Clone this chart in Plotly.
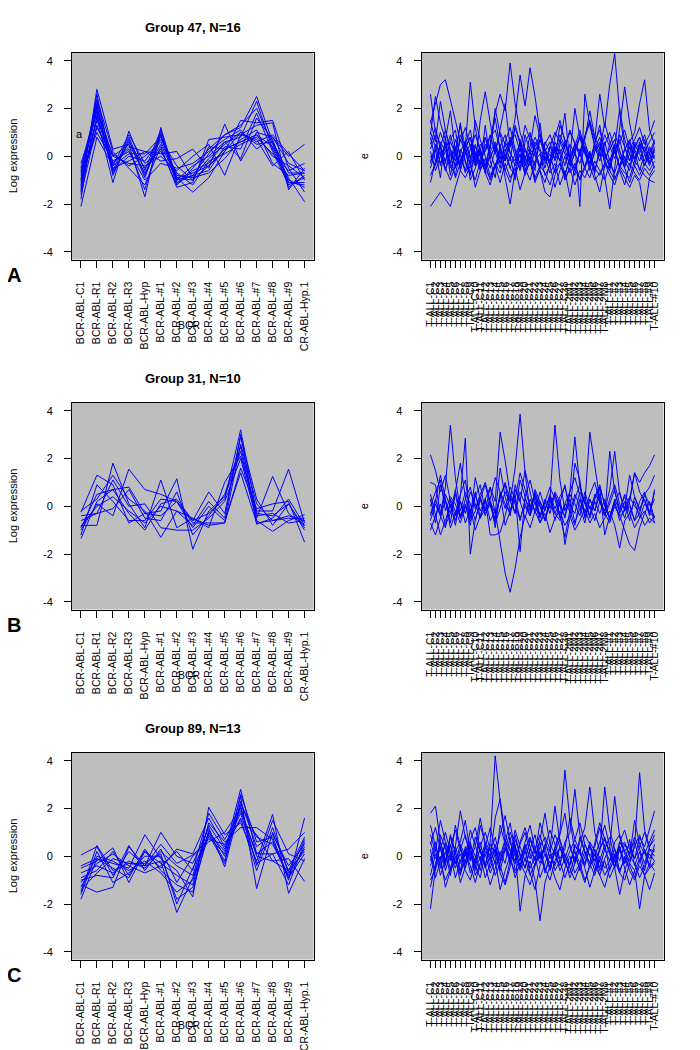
import plotly.graph_objects as go

# Sample labels (left: BCR-ABL samples, right: T-ALL samples)
LEFT_LABELS = ['BCR-ABL-C1', 'BCR-ABL-R1', 'BCR-ABL-R2', 'BCR-ABL-R3', 'BCR-ABL-Hyp',
               'BCR-ABL-#1', 'BCR-ABL-#2', 'BCR-ABL-#3', 'BCR-ABL-#4', 'BCR-ABL-#5',
               'BCR-ABL-#6', 'BCR-ABL-#7', 'BCR-ABL-#8', 'BCR-ABL-#9', 'CR-ABL-Hyp.1']
RIGHT_LABELS = ([f'T-ALL-C{i}' for i in range(1, 29)] +
                [f'T-ALL-2M{i}' for i in range(1, 9)] +
                [f'T-ALL-#{i}' for i in range(1, 11)])

GROUP_TITLES = ['Group 47, N=16', 'Group 31, N=10', 'Group 89, N=13']
PANEL_LETTERS = ['A', 'B', 'C']

# ---- Group 47 ----
G47_LEFT = [
    [-2.1, 0.8, -0.4, 0.9, -0.3, 0.2, -0.9, -1.0, -0.4, 0.3, 0.6, 0.9, 0.4, -0.9, -1.9],
    [-1.5, 2.8, 0.3, 0.5, -1.7, 1.2, -1.1, -0.8, 0.1, 0.9, 1.2, 2.5, 0.6, -1.3, -0.8],
    [-0.5, 2.2, -0.8, 0.7, -0.9, 0.9, -1.2, -0.6, -0.3, 0.6, 0.8, 2.3, 0.3, -1.1, -1.2],
    [-1.2, 1.6, -1.1, 1.05, -0.6, 1.1, -0.9, -1.5, -0.9, 0.2, 1.5, 1.4, 1.5, -0.5, -1.5],
    [-0.8, 1.9, -0.3, 0.4, 0.2, -0.2, -0.1, 0.3, -0.5, 1.35, -0.2, 1.0, 0.8, -0.3, -0.6],
    [-1.0, 2.4, 0.2, -0.5, -1.2, 0.4, -1.3, -1.1, 0.7, 0.8, 0.9, 0.7, -0.4, 0.2, -1.0],
    [-1.6, 1.3, -0.4, 0.1, 0.1, 0.8, -0.8, -0.9, -0.1, 0.5, 1.0, 0.5, 0.6, -0.7, -0.7],
    [-0.7, 2.0, 0.0, -0.3, -0.4, 0.0, -0.6, 0.0, 0.5, -0.8, 0.9, 1.3, 1.4, -1.4, -0.5],
    [-1.3, 2.6, -0.6, 0.8, -0.8, 1.0, -1.0, -0.8, -0.6, 0.4, 0.3, 1.8, 0.2, -1.2, -0.9],
    [-0.9, 1.0, -0.2, 0.2, -1.0, -0.3, -0.5, -0.3, 0.2, 0.7, 1.1, 0.3, 0.8, 0.0, 0.5],
    [-1.1, 1.5, 0.1, -0.4, 0.0, 0.6, -0.7, -1.2, -0.2, 0.1, 0.5, 0.8, 0.1, -0.6, -0.3],
    [-0.6, 2.1, -0.7, 0.6, -0.5, 0.3, -1.2, -0.5, 0.3, 0.9, 1.3, 2.0, 0.5, -1.0, -1.3],
    [-1.4, 1.7, -0.5, -0.2, 0.2, 0.1, 0.2, -0.9, -0.7, -0.1, 0.7, 1.1, -0.3, -0.8, -0.7],
    [-1.8, 2.3, -0.3, 0.3, -1.4, 0.9, -1.0, -0.4, 0.0, 0.6, -0.1, 1.6, 0.7, -1.1, -1.1],
    [-1.0, 1.2, 0.0, 0.5, -0.7, 0.5, -0.9, -0.7, -0.4, 0.2, 1.0, 0.6, 0.9, 0.1, -0.6],
    [-0.3, 1.8, -0.6, 0.0, -0.2, 0.7, -0.4, -1.0, 0.4, 0.3, 0.6, 0.9, 0.0, -0.4, -0.9],
]
G47_RIGHT = [
    [-2.1, -1.8, -1.5, -1.8, -2.1, -1.3, -0.6, -0.9, -0.4, -1.0, -0.2, -0.6, -0.9, -0.3, -0.7, 0.1, -0.5, -0.8, -0.2, -0.6, 0.0, -0.9, -0.4, -0.7, -1.2, -0.5, -0.3, -0.8, -0.1, -0.6, -0.9, -0.4, 0.2, -0.5, -0.8, -0.3, -0.6, -1.0, -0.4, -0.7, -0.9, -0.2, -0.5, -0.8, -1.0, -1.1],
    [1.4, 2.2, 3.0, 3.2, 2.4, 1.5, 0.6, 1.2, 0.4, -0.3, 0.5, 0.2, 0.8, 1.1, 0.3, -0.2, 0.6, 0.9, 0.2, 1.3, 0.7, 0.1, -0.4, 0.5, 0.9, 0.3, -0.2, 0.4, 1.0, 0.6, 0.1, 0.8, 1.4, 0.5, 0.2, 0.9, 0.4, -0.1, 0.6, 1.1, 0.3, 0.7, 1.2, 0.5, 0.9, 1.5],
    [0.3, 0.9, -0.4, 0.6, -0.8, 0.2, 1.3, 0.4, 3.1, 1.2, 0.1, -0.6, 0.5, 1.6, 0.3, -0.2, 0.8, 0.2, -0.5, 0.6, 1.0, 0.3, -0.6, -1.1, -0.3, 0.4, -0.2, -1.0, -0.5, 0.2, 0.9, 0.4, -0.3, 0.5, 1.3, 0.1, -0.4, 0.3, 0.7, -0.2, -0.6, 0.4, 0.8, 0.1, -0.4, 0.3],
    [2.6, 1.0, 0.5, -0.3, 0.7, 1.1, -0.2, 0.4, 0.8, -0.4, 1.5, 2.7, 1.4, 0.2, -0.5, 0.6, 1.2, 0.3, -0.3, 0.9, 0.2, -0.4, 0.7, 0.3, -0.2, 0.8, 1.5, 0.6, -0.1, 0.4, 1.1, 0.3, -0.6, 0.2, 0.6, -0.3, 0.5, 1.0, 0.2, -0.5, 0.4, -0.2, 0.6, -0.4, 0.1, 0.7],
    [-0.5, 0.2, 1.0, 0.4, -0.3, 0.7, 0.1, -0.6, 0.3, 0.9, 0.2, -0.4, 0.5, 1.8, 2.6, 1.9, 3.9, 2.2, 1.0, 0.3, -0.2, 0.6, 0.2, -0.5, 0.4, -0.1, 0.7, 0.3, -0.4, 0.1, 0.8, 0.2, -0.3, 0.5, 0.0, 0.6, -0.2, 0.4, -0.5, 0.3, 0.6, -0.1, 0.2, 0.7, -0.3, 0.4],
    [0.8, -0.2, 0.4, 1.1, 0.3, -0.5, 0.2, 0.6, -0.1, 0.5, -0.3, 0.3, 0.9, 0.1, 1.2, 2.2, 0.4, 1.6, 3.4, 2.1, 3.7, 2.5, 1.0, 0.2, -0.4, 0.3, -0.2, 0.5, 0.0, -0.6, 0.2, 0.6, -0.1, 0.3, 0.8, 0.0, -0.3, 0.5, 0.2, -0.4, 0.1, 0.6, 0.3, -0.2, 0.4, 0.0],
    [0.2, -0.6, 0.0, 0.5, -0.4, -0.8, 0.3, -0.2, -0.7, 0.1, -0.5, -0.3, -1.0, -0.4, 0.2, -0.9, -2.0, -0.6, 0.1, -0.8, -0.2, -1.1, -0.5, 0.0, -0.7, -0.3, -1.2, -0.6, -1.7, -0.4, 0.1, -0.5, -0.9, -0.2, -0.6, -1.0, -0.3, -0.7, 0.0, -0.5, -1.1, -0.4, -0.8, -0.3, -0.6, -0.2],
    [1.0, 0.4, -0.3, 0.2, 0.9, 0.1, -0.5, 0.6, 0.0, -0.4, 0.3, 0.8, -0.1, 0.5, -0.3, 0.2, 0.7, 0.0, -0.6, 0.3, -0.2, 0.4, 0.9, 0.2, -0.3, 0.6, 0.1, -0.8, 0.0, 0.5, -2.1, 2.6, 1.3, 0.4, -0.2, 0.5, 1.0, 0.2, -0.4, 0.3, 0.7, -0.1, 0.4, 0.9, 0.1, -0.5],
    [-0.3, 0.5, 0.1, -0.6, 0.3, -0.2, 0.7, 0.2, -0.4, 0.4, 0.0, -0.7, 0.2, 0.6, -0.1, 0.3, -0.5, 0.1, 0.5, -0.3, 0.2, 0.8, 0.3, -0.2, 0.4, 1.0, 0.6, 0.1, -0.3, 0.5, 0.2, 0.9, 1.5, 0.7, 2.6, 1.2, 3.0, 4.3, 1.8, 0.4, -0.2, 0.5, 0.1, -0.4, 0.3, -0.1],
    [0.0, -0.4, 0.6, 0.2, -0.3, 0.4, -0.6, 0.1, 0.5, -0.2, 0.3, -0.5, 0.0, 0.4, -0.3, 0.6, 0.2, -0.4, 0.1, -0.7, 0.3, 0.0, -0.5, 0.2, 0.6, -0.2, 0.3, -0.4, 0.5, 0.1, -0.3, 0.4, 0.0, -0.6, 0.2, -0.9, -2.2, -0.5, 1.2, 2.9, 1.4, 0.3, -0.2, 0.4, -0.3, 0.2],
    [0.5, 1.2, 0.3, -0.2, 0.6, 0.1, -0.4, 0.3, 0.8, 0.0, -0.3, 0.5, 0.2, -0.5, 0.4, 0.9, 0.1, -0.2, 0.6, 0.3, -0.4, 0.2, 0.7, 0.0, -0.3, 0.4, 0.1, 0.6, -0.2, 0.3, 0.8, 0.1, -0.4, 0.2, 0.5, -0.1, 0.3, 0.7, 0.0, -0.3, 0.6, 1.0, 2.2, 3.2, 1.1, 0.5],
    [-0.8, -0.3, 0.2, -0.5, -1.0, -0.4, 0.1, -0.7, -0.2, -1.3, -0.6, -0.1, -0.8, -0.4, -1.1, -0.3, -0.9, -0.5, -1.4, -0.7, -0.2, -1.0, -0.6, -1.5, -1.7, -0.8, -0.3, -0.9, -0.5, -1.2, -0.6, -0.9, -0.4, -1.0, -0.7, -0.3, -0.8, -1.2, -0.5, -0.9, -1.3, -0.8, -1.1, -2.3, -0.9, -0.6],
    [1.5, 0.6, 2.3, 1.1, 0.2, -0.4, 0.9, 0.4, -0.3, 1.5, 0.7, 0.0, -0.5, 0.3, 1.0, 0.5, -0.2, 1.3, 0.6, -0.1, 0.4, 1.7, 0.8, 0.3, -0.4, 0.2, 0.9, 0.4, 1.1, 0.5, 0.0, 0.7, 1.9, 0.8, 0.3, 1.4, 0.6, 0.1, 0.9, 0.4, -0.2, 0.3, 0.8, 0.2, 0.6, 1.0],
    [-1.1, -0.2, 0.5, -0.6, 0.1, -0.9, -0.3, 0.4, -1.0, -0.5, 0.2, -0.7, -1.2, -0.4, 0.0, -0.6, -1.1, -0.3, 0.3, -0.5, -1.0, -0.2, 0.1, -0.8, -0.4, -1.3, -0.6, 0.0, -0.7, -0.3, -1.0, -0.5, 0.2, -0.8, -1.5, -0.4, -0.1, -0.9, -0.6, -1.2, -0.3, -0.7, -1.0, -0.5, -0.8, -0.4],
    [0.9, 2.5, 1.4, 0.7, 1.9, 0.2, -0.3, 0.5, 1.1, 0.0, -0.6, 0.8, 0.3, 2.0, 0.9, -0.1, 0.4, 1.2, 0.5, -0.2, 0.9, 0.3, -0.5, 0.6, 0.2, -0.1, 1.3, 0.7, 0.0, 2.0, 0.8, 0.3, -0.3, 0.6, 1.1, 0.2, -0.5, 0.4, 2.0, 0.7, 0.1, -0.4, 0.5, 0.2, -0.1, 0.6],
    [-0.2, 0.3, -0.9, 0.8, -0.5, 0.0, 1.4, -0.3, -0.8, 0.2, -0.4, 1.3, -0.2, -0.9, 0.5, -0.6, 0.0, -1.0, 0.7, -0.4, 0.2, -0.6, 1.4, -0.3, 0.1, -0.7, 0.5, 1.8, -0.2, -0.8, 0.3, -0.5, 0.1, -0.7, 0.4, -0.2, -0.6, 0.3, -0.5, 0.0, -0.4, 0.2, -0.6, 0.1, -0.3, 0.0],
]

# ---- Group 31 ----
G31_LEFT = [
    [-1.35, 0.2, 0.7, 0.8, -0.3, -0.4, 0.2, -0.6, -0.3, 0.3, 3.2, -0.3, -0.4, 0.1, -0.9],
    [-0.8, -0.8, 1.8, 0.1, -0.9, 1.1, -0.9, -0.5, -0.8, -0.7, 2.6, 0.1, -0.6, -0.5, -0.5],
    [-0.25, 1.3, 0.9, -0.7, -0.3, -0.2, 1.15, -1.8, -0.2, 0.4, 2.3, -0.5, 1.25, -0.3, -0.8],
    [-1.0, 0.1, -0.4, 1.55, 0.7, 0.5, 0.2, -0.9, 0.0, -0.6, 1.4, -0.7, -0.6, -0.4, -0.6],
    [-0.2, 0.3, 1.3, 0.3, -0.2, -1.3, -0.2, -0.5, -0.9, 1.0, 2.1, -0.2, -0.2, 1.55, -0.7],
    [-0.9, 0.5, 0.7, -0.3, -1.0, 0.1, 0.3, -0.6, 0.6, -0.3, 2.9, 0.3, -0.8, 0.1, -1.0],
    [-0.6, -0.3, 1.1, 0.0, 0.1, -0.9, -1.0, -1.0, -0.5, 0.2, 2.0, -0.6, -1.05, -0.6, -0.35],
    [-1.2, 0.9, 0.2, -0.6, -0.6, 0.3, 0.2, -0.7, -0.7, -0.7, 1.6, -0.1, 0.1, 0.2, -1.5],
    [-0.4, -0.3, -0.1, 0.7, -0.5, -0.6, 0.6, -1.2, -0.4, 0.5, 2.5, -0.4, -0.3, -0.7, -0.6],
    [-0.85, 0.0, 0.4, -0.2, -0.7, 0.0, -0.2, -0.8, 0.2, -0.5, 3.0, -0.75, -0.5, 0.3, -0.8],
]
G31_RIGHT = [
    [2.15, 1.5, 0.6, 1.3, 0.2, -0.4, 0.5, 1.1, -0.3, 0.4, 0.9, -0.2, 0.3, 1.2, 0.6, -0.1, 0.8, 0.3, 1.4, 0.7, 0.0, 0.5, -0.4, 0.2, 0.8, 0.3, -0.5, 0.1, 0.6, 1.2, 0.4, -0.3, 0.5, 1.0, 0.2, -0.4, 0.3, 0.9, 0.1, -0.5, 0.2, 1.4, 1.0, 1.4, 1.7, 2.15],
    [1.0, 0.9, -0.3, 0.8, 3.4, 1.2, -0.2, 0.6, 0.1, -0.6, 0.3, 0.9, 0.0, -0.5, 0.4, 1.0, 0.2, -0.3, 0.6, 0.1, -0.4, 0.7, 0.2, -0.2, 0.5, -0.1, 0.4, 0.8, 0.0, -0.3, 0.6, 0.2, -0.4, 0.3, 0.8, 0.1, -0.5, 0.2, 0.6, -0.2, 0.4, 0.0, -0.3, 0.5, 0.8, 1.3],
    [0.5, -0.3, -1.2, -0.6, 0.1, -0.8, 0.4, 2.85, -2.0, -0.6, 0.3, -0.4, 0.2, -0.9, 0.6, 0.1, -0.3, 0.7, 0.2, -0.5, 0.3, -0.2, 0.6, -0.1, 0.4, -0.6, 0.2, 0.9, -0.3, 0.5, 0.0, -0.7, 0.3, -0.2, 0.5, -0.4, 0.1, 0.7, -0.3, 0.2, -0.6, 0.4, -0.1, 0.3, -0.4, 0.7],
    [-0.4, 0.2, 1.3, 0.3, -0.7, 0.6, 1.8, 0.4, -0.5, 1.2, 0.3, -0.2, 0.8, 0.2, 3.1, 1.9, 0.5, -0.3, 1.1, 0.4, -0.4, 0.6, 0.0, -0.6, 0.3, 3.4, 1.1, -0.2, 0.5, 0.1, -0.4, 0.6, -0.1, 0.4, 0.9, 0.0, -0.5, 0.3, -0.2, 0.5, 0.1, -0.6, 0.2, 0.6, -0.3, -0.4],
    [-0.7, -1.2, -0.5, 0.3, -0.9, -0.3, 0.2, -0.7, -0.1, -1.0, -0.4, 0.3, -0.6, -0.2, -1.5, -2.8, -3.6, -2.6, -1.3, -0.4, -0.9, -0.2, -0.7, -0.3, -1.1, -0.5, -0.2, -0.8, -0.4, -1.0, -0.6, -0.1, -0.7, -0.3, -0.9, -0.5, -0.2, -0.8, -1.75, -0.6, -0.3, -0.9, -0.5, -0.2, -0.7, -0.4],
    [-1.0, -0.4, 0.1, -0.8, -0.3, 0.5, -0.5, 0.0, -0.6, -0.2, 0.4, -0.3, 0.1, -0.7, -0.1, 0.6, 0.2, 1.6, 3.85, 1.4, -0.2, 0.5, 0.0, -0.6, 0.3, -0.3, 0.2, -0.5, 0.6, 2.9, 0.8, 0.1, 3.1, 1.6, 0.3, -0.4, 2.3, 0.6, -0.1, 0.4, -0.3, 0.2, -0.5, 0.1, -0.2, 0.3],
    [0.0, 0.6, 1.1, -0.2, 0.4, 0.1, -0.5, 0.3, 0.8, -0.1, 0.5, 1.0, 0.2, -0.3, 0.4, 0.9, -0.2, 0.5, -1.9, 0.4, 1.1, 0.2, -0.4, 0.3, -0.1, 0.6, 0.2, -1.6, -0.5, 0.3, 0.9, 0.1, -0.4, 0.5, 0.2, -0.2, 0.7, 2.3, 0.5, -0.1, 0.3, 1.4, 0.6, 0.2, -0.3, 0.6],
    [-0.3, 0.3, -0.4, 0.5, 0.0, -0.6, 0.2, -0.3, 0.6, 0.1, -0.5, 0.3, -1.2, -1.2, -1.1, -0.4, 0.5, 0.1, -0.6, 0.3, -0.1, 0.4, -0.5, 0.2, -0.3, 0.5, 0.0, -0.4, 0.3, -0.7, -0.1, 0.4, -0.5, 0.2, -0.3, 0.3, -0.6, 0.0, -0.4, -1.0, -1.6, -1.85, -0.9, -0.3, 0.2, -0.5],
    [0.3, -0.7, 0.9, 0.2, -0.3, 0.7, -0.4, 0.1, -0.8, 0.5, -0.2, 0.3, 0.8, -0.3, 1.6, 0.4, -0.4, 0.9, 0.2, 1.5, 0.6, -0.3, 0.2, -0.6, 0.1, 0.5, -0.4, -1.3, -0.2, 1.8, 1.1, -0.5, 0.3, -0.2, 0.8, -1.2, -0.4, 0.2, -0.6, -0.1, 1.3, 0.4, -0.2, 0.5, 0.1, -0.7],
    [-0.6, 0.1, -0.4, -0.9, 0.3, -0.2, -0.7, 0.0, -0.3, 0.6, -0.5, -0.1, 0.2, -0.6, 0.5, -0.8, -0.2, 0.3, -0.5, 0.0, -0.4, 0.2, -0.7, -0.1, 0.4, -0.3, -0.6, 0.1, -0.2, -0.8, 0.3, -0.4, 0.0, -0.6, 0.2, -0.3, -0.7, 0.1, -0.4, -0.2, 0.0, -0.6, -0.3, -0.8, -0.5, -0.7],
]

# ---- Group 89 ----
G89_LEFT = [
    [0.05, 0.4, -0.8, 0.2, -0.4, -0.2, -2.35, -0.9, 1.0, 0.2, 2.8, 0.1, 0.6, -0.9, 0.4],
    [-1.8, -0.1, -0.3, -0.5, 0.9, -0.1, -0.6, -1.7, 2.05, 0.9, 1.4, -0.2, 1.75, -1.55, -0.1],
    [-1.2, -1.5, -1.3, 0.4, -0.4, 1.0, 0.0, -0.3, 1.2, -0.45, 2.2, 0.8, 0.5, -0.8, 0.7],
    [-0.5, -0.2, 0.35, -1.1, 0.2, -0.5, 0.3, 0.1, 1.6, 0.4, 1.8, -0.3, 0.1, 0.3, 1.0],
    [-1.5, 0.45, -0.6, -0.3, -0.3, 0.1, -2.0, -0.5, 0.8, 0.1, 2.5, -1.35, 1.0, -0.6, 0.2],
    [-0.9, -0.6, 0.2, -0.8, 0.2, -0.3, -0.8, -1.2, 1.4, 0.6, 1.2, 1.2, 0.7, -1.0, 1.6],
    [-1.0, -0.8, -0.9, 0.45, -0.6, 0.3, -1.1, 0.0, 0.6, 1.0, 2.0, 0.0, -0.2, -0.1, -1.05],
    [-1.3, 0.0, -0.2, -0.6, -0.2, -0.7, -1.5, -1.0, 1.0, -0.2, 2.3, 0.4, 0.9, -0.4, 0.5],
    [-0.7, -0.4, -0.7, -0.2, -0.5, 0.2, -0.4, -0.8, 1.3, 0.3, 1.6, -0.6, 1.2, -0.7, 0.3],
    [-1.6, 0.2, -1.1, -0.7, 0.0, 0.0, -1.8, -1.3, 0.9, -0.3, 2.6, 0.6, 0.8, -0.9, 0.1],
    [-1.1, -0.3, 0.1, -0.4, -0.7, -0.4, 0.2, -0.6, 1.8, 0.7, 1.9, 0.1, 0.1, -1.2, 0.6],
    [-0.4, -0.1, -0.5, -0.9, 0.3, -0.6, -1.2, -1.5, 1.1, 0.0, 2.1, -0.4, 1.5, 0.1, -0.2],
    [-1.4, -0.7, -0.1, -0.3, -0.4, 0.5, -0.3, 0.05, 0.7, 0.5, 1.5, 0.9, -0.2, -0.6, 0.8],
]
G89_RIGHT = [
    [-2.2, -0.5, 0.6, -0.3, 0.9, 0.1, -0.6, 0.4, -0.2, 0.8, 0.2, -0.4, 0.6, 4.2, 2.3, 0.5, -0.3, 0.7, 0.1, -0.5, 0.3, 0.9, -0.1, 0.4, -0.6, 0.2, 0.7, 0.0, -0.4, 0.5, 0.1, -0.3, 0.6, 0.2, -0.5, 0.3, 0.8, -0.1, 0.4, -0.3, 0.2, 0.6, -0.2, 0.3, -0.4, 0.5],
    [1.8, 2.1, 0.6, -0.2, 0.4, 1.1, 0.3, -0.5, 0.5, 0.0, -0.6, 0.4, 1.2, 0.3, -0.2, 0.6, 1.4, 0.2, -0.4, 0.5, -0.1, 0.3, 0.9, 0.1, -0.5, 0.4, 1.0, 3.6, 1.5, 0.2, -0.3, 0.5, 0.0, -0.6, 0.3, 0.8, 0.1, -0.4, 0.6, 0.2, -0.2, 0.5, 3.5, 1.1, 0.4, 0.9],
    [0.3, -0.9, -0.2, 0.5, -0.6, 0.0, -1.1, -0.4, 0.2, -0.8, -0.3, 0.4, -0.5, 0.1, -0.7, -1.2, -0.4, 0.3, -2.3, -0.8, -0.2, -1.0, -2.7, -1.1, -0.4, 0.2, -0.6, -0.1, -0.9, -0.3, 0.3, -0.5, -1.3, -0.6, -0.2, -0.8, -0.4, 0.1, -0.7, -1.0, -0.3, -0.6, -2.2, -0.8, -0.5, -0.2],
    [0.9, 0.2, 1.5, 0.6, -0.1, 0.4, 1.9, 0.8, 0.2, -0.3, 1.3, 0.5, 0.0, 1.6, 2.4, 0.9, 0.3, -0.2, 0.6, 1.2, 0.4, -0.1, 0.7, 1.8, 0.5, 0.1, -0.4, 0.6, 1.0, 2.8, 0.9, 0.2, -0.3, 0.5, 1.4, 0.7, 0.2, -0.2, 0.6, 1.1, 0.3, -0.1, 0.8, 0.4, 1.2, 1.9],
    [-0.8, 0.1, -0.3, -1.0, -0.5, 0.2, -0.7, -0.2, 0.4, -0.6, 0.0, -0.9, -0.3, 0.3, -0.4, -1.1, -0.2, 0.5, -0.6, -0.1, -0.8, -0.3, 0.2, -0.5, -1.0, -0.2, 0.4, -0.3, -0.7, 0.0, -0.5, -1.1, -0.4, 0.1, -0.6, -0.2, -0.9, -0.4, 0.3, -0.5, -1.2, -0.6, -0.1, -0.8, -0.3, -0.6],
    [0.5, 1.2, 0.3, -0.4, 0.8, 0.2, 0.6, 1.5, 0.1, -0.5, 0.4, 1.0, 0.3, -0.3, 1.3, 0.5, 0.0, 1.1, 0.4, -0.2, 0.7, 0.1, 1.4, 0.6, -0.1, 0.3, 0.9, 1.8, 0.4, -0.2, 0.6, 1.2, 2.9, 1.0, 0.2, 2.9, 1.1, 0.3, -0.2, 0.5, 0.1, 0.8, 0.3, -0.3, 0.4, 0.7],
    [-1.3, -0.3, 0.4, -0.6, 0.1, -0.9, -0.2, 0.3, -0.7, 0.0, 0.6, -0.4, -1.2, -0.5, 0.2, -0.3, 0.8, -0.6, -0.1, 0.4, -0.7, -1.4, -0.4, 0.1, -0.5, 0.3, -0.2, -0.9, -0.3, 0.2, -0.6, 0.0, 0.5, -0.4, -0.8, -0.1, 0.4, -0.5, -1.6, -0.6, 0.0, -0.3, -0.9, -0.4, 0.1, -0.2],
    [0.0, -0.6, 0.9, 0.3, -0.2, 1.3, 0.4, -0.3, 0.7, 1.2, 0.2, -0.4, 0.5, 0.1, 0.9, 1.7, 0.6, 0.0, -0.5, 0.3, 0.8, 0.2, -0.3, 0.4, 1.1, 0.5, -0.1, 0.3, 1.6, 0.7, 0.2, -0.4, 0.4, 0.0, 0.6, 1.3, 0.4, 2.5, 0.8, 0.1, -0.3, 0.4, 0.9, 0.2, -0.1, 0.3],
    [-0.4, 0.3, -0.8, -0.1, 0.5, -0.3, 0.1, -0.6, -1.0, -0.2, 0.3, -0.5, 0.0, -0.8, -0.3, 0.4, -0.1, -0.7, -0.4, 0.2, -0.5, 0.0, -0.9, -0.3, 0.3, -0.6, -0.2, 0.1, -0.5, -1.0, -0.4, 0.2, -0.3, -0.8, 0.0, -0.5, -0.2, 0.3, -0.6, -0.1, -0.4, -0.9, -0.2, 0.2, -0.5, -0.3],
    [1.3, 0.4, -0.2, 0.6, 0.1, -0.5, 0.3, 0.9, -0.1, 0.4, 1.6, 0.5, -0.2, 0.3, 0.0, 0.7, 0.2, -0.3, 0.5, 1.0, 0.1, -0.4, 0.4, 0.8, 0.3, 2.1, 0.6, 0.0, -0.3, 0.4, 0.2, 0.9, 0.5, -0.2, 0.3, 0.7, 0.1, -0.5, 0.3, 0.6, 0.0, 1.5, 0.5, 0.1, 0.6, 1.1],
    [-1.0, -0.5, 0.0, -1.3, -0.6, -0.2, -0.8, 0.2, -0.4, -1.1, -0.3, 0.1, -0.7, -0.2, -1.4, -0.6, 0.0, -0.9, -0.3, -0.7, -1.2, -0.4, 0.1, -0.6, -0.2, -0.9, -1.4, -0.5, 0.0, -0.7, -0.3, -1.0, -0.4, -0.1, -0.8, -1.3, -0.5, -0.2, -0.7, 0.0, -0.6, -1.0, -0.4, -0.8, -1.4, -0.7],
    [0.6, -0.1, 0.3, 1.0, 0.2, -0.3, 0.5, 0.0, 1.1, 0.4, -0.2, 0.6, 0.2, 0.8, -0.1, 0.3, 1.0, 0.4, -0.2, 0.6, 1.3, 0.3, -0.1, 0.5, 0.2, 0.9, 0.4, -0.3, 0.2, 0.7, 1.4, 0.5, 0.0, 0.4, 1.2, 0.3, -0.2, 0.6, 0.9, 0.2, 0.5, -0.1, 0.4, 1.0, 0.3, 0.2],
    [-0.2, 0.6, -0.5, 0.2, -0.8, 0.4, -0.3, 0.1, 0.6, -0.4, -0.9, 0.2, -0.1, 0.5, -0.6, 0.3, -0.2, 0.9, 0.0, -0.5, 0.3, -0.2, 0.6, -0.7, 0.1, -0.4, 0.4, -0.1, 0.5, -0.3, 0.8, 0.1, -0.5, 0.3, -0.2, 0.5, -0.6, 0.0, 0.4, -0.3, 0.7, -0.4, 0.2, -0.6, 0.3, 0.0],
]

GROUPS = [(G47_LEFT, G47_RIGHT), (G31_LEFT, G31_RIGHT), (G89_LEFT, G89_RIGHT)]

# page is 700x1050; the html body keeps an 8px margin, so the figure is 8px smaller
PAGE_OFF = 8
W, H = 700 - PAGE_OFF, 1050 - PAGE_OFF
FONT = 'Liberation Sans, Arial, sans-serif'
LINE_BLUE = '#0000FF'
PANEL_BG = '#BEBEBE'

# plot-box pixel positions on the page (one row every 350px)
LEFT_X = (72, 313.5)
RIGHT_X = (421.5, 663.5)
ROW_TOP, ROW_BOT, ROW_STEP = 53, 259.5, 350


def px_x(p):
    return (p - PAGE_OFF) / W


def px_y(p):
    return 1 - (p - PAGE_OFF) / H


fig = go.Figure()
layout = {}
annotations = []


def note(text, x, y, size, angle=0):
    annotations.append(dict(
        text=text, x=px_x(x), y=px_y(y), xref='paper', yref='paper',
        xanchor='center', yanchor='middle', textangle=angle, showarrow=False,
        font=dict(family=FONT, size=size, color='black')))


for r, (left, right) in enumerate(GROUPS):
    top = ROW_TOP + r * ROW_STEP
    bot = ROW_BOT + r * ROW_STEP
    for c, (series, labels, xdom) in enumerate([(left, LEFT_LABELS, LEFT_X),
                                                 (right, RIGHT_LABELS, RIGHT_X)]):
        k = r * 2 + c + 1
        xname = 'x' if k == 1 else f'x{k}'
        yname = 'y' if k == 1 else f'y{k}'
        n = len(labels)
        for vals in series:
            fig.add_trace(go.Scatter(
                x=list(range(1, len(vals) + 1)), y=vals,
                mode='lines', line=dict(color=LINE_BLUE, width=1),
                xaxis=xname, yaxis=yname, showlegend=False, hoverinfo='skip'))
        pad = 0.04 * (n - 1)
        layout['xaxis' if k == 1 else f'xaxis{k}'] = dict(
            domain=[px_x(xdom[0]), px_x(xdom[1])],
            anchor=yname, range=[1 - pad, n + pad],
            tickmode='array', tickvals=list(range(1, n + 1)), ticktext=labels,
            tickangle=-90, ticks='outside', ticklen=7, tickcolor='black',
            ticklabelstandoff=10,
            tickfont=dict(family=FONT, size=10.5, color='black'),
            showline=True, mirror=True, linecolor='black', linewidth=1,
            showgrid=False, zeroline=False, fixedrange=True)
        layout['yaxis' if k == 1 else f'yaxis{k}'] = dict(
            domain=[px_y(bot), px_y(top)],
            anchor=xname, range=[-4.32, 4.32],
            tickmode='array', tickvals=[-4, -2, 0, 2, 4],
            ticktext=['-4', '-2', '0', '2', '4'],
            ticks='outside', ticklen=7, tickcolor='black',
            ticklabelstandoff=9,
            tickfont=dict(family=FONT, size=11, color='black'),
            showline=True, mirror=True, linecolor='black', linewidth=1,
            showgrid=False, zeroline=False, fixedrange=True)

    mid = (top + bot) / 2
    note(f'<b>{GROUP_TITLES[r]}</b>', (LEFT_X[0] + LEFT_X[1]) / 2, 28 + r * ROW_STEP, 13)
    note('Log expression', 13, mid, 11, -90)
    note('e', 364, mid, 11, -90)
    note(f'<b>{PANEL_LETTERS[r]}</b>', 14, 275 + r * ROW_STEP, 20)
    # stray overlapping label text under the x axis
    note('BCR', 189, 325 + r * ROW_STEP, 10.5)

# small stray "a" inside panel A
annotations.append(dict(
    text='a', x=0.9, y=0.95, xref='x', yref='y', showarrow=False,
    font=dict(family=FONT, size=11, color='black')))

fig.update_layout(
    width=W, height=H, margin=dict(l=0, r=0, t=0, b=0),
    paper_bgcolor='white', plot_bgcolor=PANEL_BG,
    annotations=annotations, showlegend=False, **layout)

fig.write_html('out.html')
